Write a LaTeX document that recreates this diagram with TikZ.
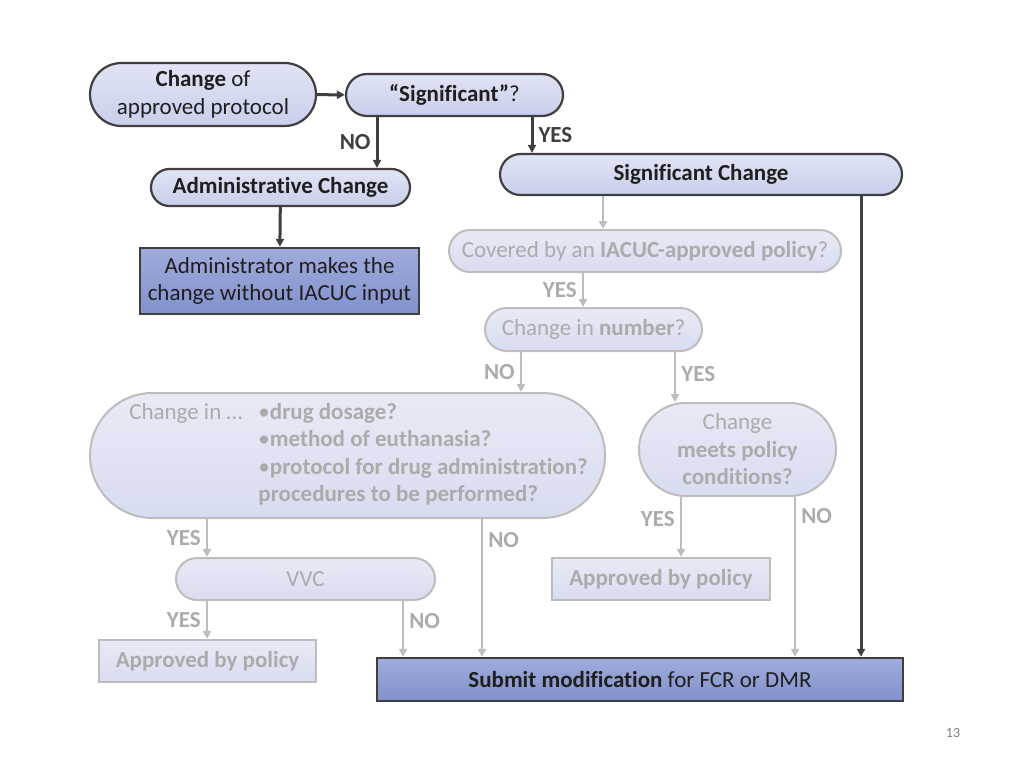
\documentclass[tikz,border=0pt]{standalone}
\usepackage{fontspec}
\setmainfont{Carlito}[Ligatures={TeX,NoCommon}]
\usetikzlibrary{shapes.misc,arrows.meta}
\definecolor{darkline}{HTML}{3F3F3F}
\definecolor{darktext}{HTML}{1F1F1F}
\definecolor{paleline}{HTML}{BDBDBD}
\definecolor{paletext}{HTML}{ABABAB}
\definecolor{lavtop}{HTML}{E1E4F5}
\definecolor{lavbot}{HTML}{C9CFEC}
\definecolor{bluetop}{HTML}{A0ABDB}
\definecolor{bluebot}{HTML}{8191CC}
\definecolor{fadetop}{HTML}{E8EAF5}
\definecolor{fadebot}{HTML}{D8DCF0}

\begin{document}
\begin{tikzpicture}[x=1pt,y=-1pt,>={Triangle[length=8pt,width=8pt]},font=\fontsize{23}{27.5}\selectfont]
    \useasboundingbox (0,0) rectangle (1024,768);

    \begin{scope}[every node/.style={rounded rectangle,draw=darkline,line width=2.2pt,top color=lavtop,bottom color=lavbot,text=darktext,inner sep=0pt,align=center}]
        \node[minimum width=226,minimum height=63] (chg) at (203,94.5) {\textbf{Change} of\\approved protocol};
        \node[minimum width=217,minimum height=42] (sig) at (454.5,95) {\textbf{``Significant''}?};
        \node[minimum width=259,minimum height=37] (adm) at (280.5,187.5) {\textbf{Administrative Change}};
        \node[minimum width=402,minimum height=41] (sigc) at (701,174.5) {\textbf{Significant Change}};
    \end{scope}

    \begin{scope}[every node/.style={rectangle,draw=darkline,line width=2.4pt,top color=bluetop,bottom color=bluebot,text=darktext,inner sep=0pt,align=center}]
        \node[minimum width=279,minimum height=66] (admin) at (279.5,281) {Administrator makes the\\change without IACUC input};
        \node[minimum width=526,minimum height=43] (sub) at (640,679.5) {\textbf{Submit modification} for FCR or DMR};
    \end{scope}

    \begin{scope}[every node/.style={rounded rectangle,draw=paleline,line width=2pt,top color=fadetop,bottom color=fadebot,text=paletext,inner sep=0pt,align=center}]
        \node[minimum width=392,minimum height=42] (cov) at (645,251) {Covered by an \textbf{IACUC-approved policy}?};
        \node[minimum width=217,minimum height=43] (num) at (593.5,329.5) {Change in \textbf{number}?};
        \node[minimum width=515,minimum height=125] (big) at (347.5,455.5) {};
        \node[minimum width=197,minimum height=93] (meet) at (737.5,449.5) {Change\\\textbf{meets policy}\\\textbf{conditions?}};
        \node[minimum width=259,minimum height=42] (vvc) at (305.5,579) {VVC};
    \end{scope}

    % list inside the big question
    \node[text=paletext,inner sep=0pt] (bigtxt) at (358.5,455) {%
        \begin{tabular}{@{}l@{\hspace{16pt}}l@{}}
            Change in \dots & \textbullet\textbf{drug dosage?}\\
            & \textbullet\textbf{method of euthanasia?}\\
            & \textbullet\textbf{protocol for drug administration?}\\
            & \textbf{procedures to be performed?}
        \end{tabular}};

    \begin{scope}[every node/.style={rectangle,draw=paleline,line width=2.4pt,top color=fadetop,bottom color=fadebot,text=paletext,inner sep=0pt,align=center}]
        \node[minimum width=218,minimum height=42] (aprr) at (661,579) {\textbf{Approved by policy}};
        \node[minimum width=217,minimum height=42] (aprl) at (207.5,661) {\textbf{Approved by policy}};
    \end{scope}

    \begin{scope}[every node/.style={text=darkline,font=\fontsize{23}{27.5}\selectfont\bfseries,inner sep=5pt}, every edge/.style={draw=darkline,line width=3pt}]
        \path [->] (chg) edge (sig);
        \path [->] (sig.south -| 377,0) edge node[left] (lno1) {NO} (adm.north -| 377,0);
        \path [->] (sig.south -| 532,0) edge node[right] (lyes1) {YES} (sigc.north -| 532,0);
        \path [->] (adm) edge (admin);
        \path [->] (sigc.south -| 861,0) edge (sub.north -| 861,0);
    \end{scope}

    \begin{scope}[every node/.style={text=paletext,font=\fontsize{23}{27.5}\selectfont\bfseries,inner sep=5pt}, every edge/.style={draw=paleline,line width=2.6pt}]
        \path [->] (sigc.south -| 603,0) edge (cov.north -| 603,0);
        \path [->] (cov.south -| 583,0) edge node[left] (lyes2) {YES} (num.north -| 583,0);
        \path [->] (num.south -| 521,0) edge node[left] (lno2) {NO} (big.north -| 521,0);
        \path [->] (num.south -| 675,0) edge node[right,pos=0.45] (lyes3) {YES} (meet.north -| 675,0);
        \path [->] (big.south -| 207,0) edge node[left] (lyes4) {YES} (vvc.north -| 207,0);
        \path [->] (big.south -| 482,0) edge node[right,pos=0.15] (lno3) {NO} (sub.north -| 482,0);
        \path [->] (meet.south -| 681,0) edge node[left,pos=0.37] (lyes5) {YES} (aprr.north -| 681,0);
        \path [->] (meet.south -| 795,0) edge node[right,pos=0.12] (lno4) {NO} (sub.north -| 795,0);
        \path [->] (vvc.south -| 207,0) edge node[left] (lyes6) {YES} (aprl.north -| 207,0);
        \path [->] (vvc.south -| 403,0) edge node[right,pos=0.35] (lno5) {NO} (sub.north -| 403,0);
    \end{scope}

    \node[text=gray] (pgno) at (953,733) {\fontsize{14}{16}\selectfont 13};

\end{tikzpicture}
\end{document}
